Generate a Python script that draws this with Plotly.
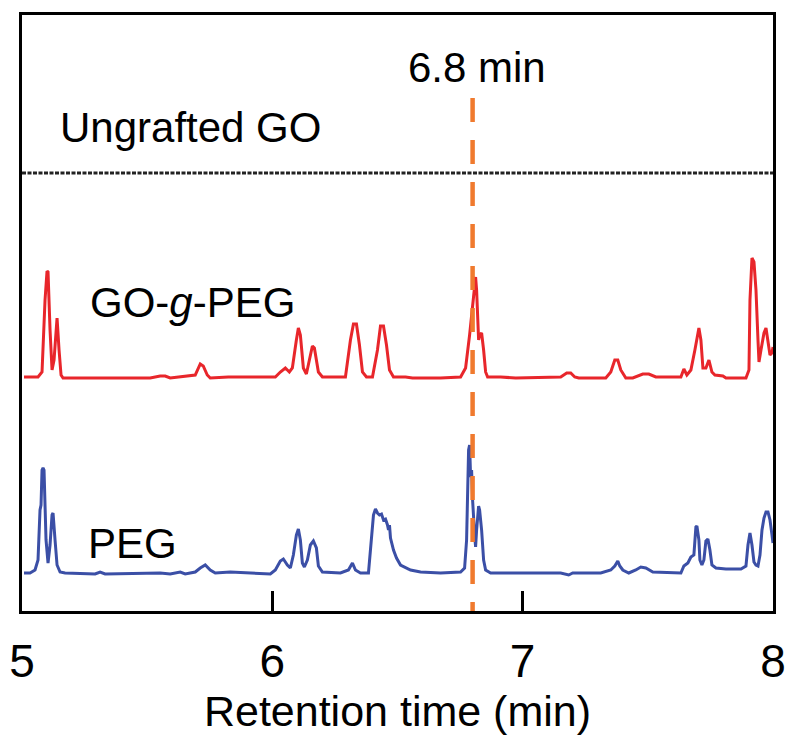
import plotly.graph_objects as go

# Retention times (min) and intensities (arbitrary, px-like units)
go_peg_time = [5.008, 5.064, 5.080, 5.092, 5.100, 5.104, 5.112, 5.120, 5.128, 5.140,
               5.148, 5.156, 5.164, 5.312, 5.512, 5.552, 5.572, 5.592, 5.692, 5.712,
               5.724, 5.740, 5.752, 5.824, 5.872, 6.012, 6.032, 6.052, 6.068, 6.080,
               6.096, 6.104, 6.112, 6.124, 6.136, 6.148, 6.160, 6.168, 6.184, 6.200,
               6.252, 6.292, 6.312, 6.324, 6.336, 6.348, 6.360, 6.376, 6.400, 6.420,
               6.432, 6.444, 6.456, 6.468, 6.484, 6.532, 6.560, 6.672, 6.752, 6.772,
               6.788, 6.796, 6.804, 6.812, 6.816, 6.820, 6.824, 6.828, 6.836, 6.844,
               6.852, 6.860, 6.912, 6.972, 7.152, 7.176, 7.192, 7.208, 7.224, 7.332,
               7.352, 7.368, 7.380, 7.392, 7.412, 7.440, 7.460, 7.480, 7.504, 7.532,
               7.632, 7.644, 7.656, 7.672, 7.688, 7.704, 7.712, 7.720, 7.732, 7.744,
               7.756, 7.768, 7.800, 7.812, 7.892, 7.904, 7.908, 7.916, 7.924, 7.932,
               7.940, 7.944, 7.952, 7.964, 7.972, 7.980, 7.988, 7.996, 8.000]
go_peg_signal = [0, 0, 5, 77, 106, 105, 47, 7, 17, 59,
                 27, 2, -1, -1, -1, 1, 1, -1, 2, 13,
                 11, 2, -1, 0, 0, 0, 5, 9, 5, 9,
                 37, 49, 42, 9, 3, 17, 31, 29, 5, 0,
                 0, 0, 37, 53, 53, 32, 5, 0, 0, 27,
                 51, 51, 32, 7, 0, 0, -1, -1, 0, 9,
                 42, 62, 87, 100, 87, 52, 37, 42, 44, 27,
                 5, 0, 0, -1, 0, 4, 4, 0, -1, -1,
                 5, 17, 17, 7, -1, -1, 1, 3, 3, 0,
                 0, 8, 2, 7, 27, 49, 37, 9, 9, 17,
                 5, 2, 1, -1, -1, 7, 77, 119, 115, 87,
                 37, 15, 27, 44, 49, 37, 22, 24, 30]

peg_time = [5.008, 5.032, 5.052, 5.064, 5.072, 5.076, 5.080, 5.084, 5.088, 5.096,
            5.104, 5.112, 5.120, 5.124, 5.132, 5.140, 5.152, 5.172, 5.292, 5.312,
            5.332, 5.552, 5.592, 5.632, 5.652, 5.692, 5.712, 5.732, 5.752, 5.772,
            5.832, 5.892, 5.992, 6.012, 6.032, 6.044, 6.060, 6.072, 6.084, 6.096,
            6.104, 6.112, 6.120, 6.128, 6.140, 6.152, 6.164, 6.176, 6.184, 6.200,
            6.272, 6.304, 6.320, 6.332, 6.352, 6.384, 6.396, 6.404, 6.412, 6.420,
            6.428, 6.436, 6.444, 6.452, 6.460, 6.464, 6.468, 6.472, 6.484, 6.496,
            6.512, 6.552, 6.592, 6.672, 6.752, 6.768, 6.776, 6.780, 6.784, 6.788,
            6.792, 6.796, 6.800, 6.808, 6.812, 6.816, 6.824, 6.828, 6.836, 6.844,
            6.852, 6.872, 6.992, 7.152, 7.184, 7.200, 7.312, 7.352, 7.368, 7.380,
            7.388, 7.400, 7.424, 7.452, 7.472, 7.492, 7.520, 7.592, 7.632, 7.644,
            7.660, 7.672, 7.684, 7.692, 7.696, 7.704, 7.708, 7.716, 7.724, 7.732,
            7.740, 7.748, 7.756, 7.772, 7.812, 7.872, 7.892, 7.900, 7.908, 7.916,
            7.924, 7.932, 7.940, 7.948, 7.956, 7.964, 7.972, 7.980, 7.988, 7.996,
            8.000]
peg_signal = [0, 0, 3, 13, 63, 68, 103, 105, 103, 33,
              10, 28, 58, 60, 33, 8, 1, 0, -1, 1,
              -1, 0, -1, 1, -1, 1, 5, 8, 3, 0,
              1, 0, -1, 3, 12, 14, 8, 5, 18, 38,
              44, 33, 10, 6, 13, 28, 32, 25, 7, 1,
              0, 3, 10, 3, 0, 0, 33, 58, 64, 60,
              58, 59, 53, 54, 48, 43, 48, 35, 23, 15,
              8, 3, 1, 0, 1, 5, 33, 83, 123, 128,
              96, 103, 73, 38, 26, 43, 67, 63, 43, 13,
              3, 0, 0, 0, -2, 0, 0, 3, 7, 12,
              7, 3, 0, 3, 6, 5, 1, 0, 0, 7,
              10, 16, 18, 46, 47, 33, 13, 8, 13, 32,
              34, 23, 8, 5, 4, 4, 7, 28, 40, 28,
              11, 8, 7, 18, 43, 55, 61, 61, 53, 38,
              30]

go_peg_offset = 234
peg_offset = 38
marker_time = 6.8
tick_vals = [5, 6, 7, 8]
tick_text = ["5", "6", "7", "8"]

FONT = "Liberation Sans, Arial, Helvetica, sans-serif"

fig = go.Figure()
fig.add_trace(go.Scatter(x=go_peg_time, y=[go_peg_offset + v for v in go_peg_signal],
                         mode="lines", line=dict(color="#E8262B", width=3),
                         showlegend=False, hoverinfo="skip"))
fig.add_trace(go.Scatter(x=peg_time, y=[peg_offset + v for v in peg_signal],
                         mode="lines", line=dict(color="#3B4FA6", width=3),
                         showlegend=False, hoverinfo="skip"))

# separator line for the ungrafted GO panel
fig.add_shape(type="line", xref="paper", x0=0, x1=1, yref="y", y0=438, y1=438,
              line=dict(color="#222222", width=3, dash="4px,1.5px"), layer="above")
# 6.8 min dashed marker
fig.add_shape(type="line", xref="x", x0=marker_time, x1=marker_time, yref="y", y0=513, y1=0,
              line=dict(color="#F07A2E", width=4.5, dash="24px,18px"), layer="above")

ann_font = dict(family=FONT, size=42, color="black")
fig.add_annotation(x=5.144, y=484, text="Ungrafted GO", showarrow=False,
                   xanchor="left", yanchor="middle", font=ann_font)
fig.add_annotation(x=5.264, y=309, text="GO-<i>g</i>-PEG", showarrow=False,
                   xanchor="left", yanchor="middle", font=ann_font)
fig.add_annotation(x=5.256, y=68, text="PEG", showarrow=False,
                   xanchor="left", yanchor="middle", font=ann_font)
fig.add_annotation(x=6.532, y=544, text="6.8 min", showarrow=False,
                   xanchor="left", yanchor="middle", font=ann_font)

fig.update_layout(
    width=789, height=738,
    margin=dict(l=22, r=16, t=15, b=127, autoexpand=False),
    paper_bgcolor="white", plot_bgcolor="white",
    font=dict(family=FONT, color="black"),
    xaxis=dict(range=[5, 8.0], showgrid=False, zeroline=False, automargin=False,
               showline=True, linecolor="black", linewidth=3, mirror=True,
               ticks="inside", ticklen=20, tickwidth=3, tickcolor="black",
               tickvals=tick_vals, ticktext=tick_text,
               tickfont=dict(size=46, family=FONT), ticklabelstandoff=8,
               title=dict(text="Retention time (min)", font=dict(size=43, family=FONT),
                          standoff=8)),
    yaxis=dict(range=[0, 596], showgrid=False, zeroline=False, showticklabels=False,
               automargin=False,
               showline=True, linecolor="black", linewidth=3, mirror=True, ticks=""),
)

fig.write_html("out.html")
